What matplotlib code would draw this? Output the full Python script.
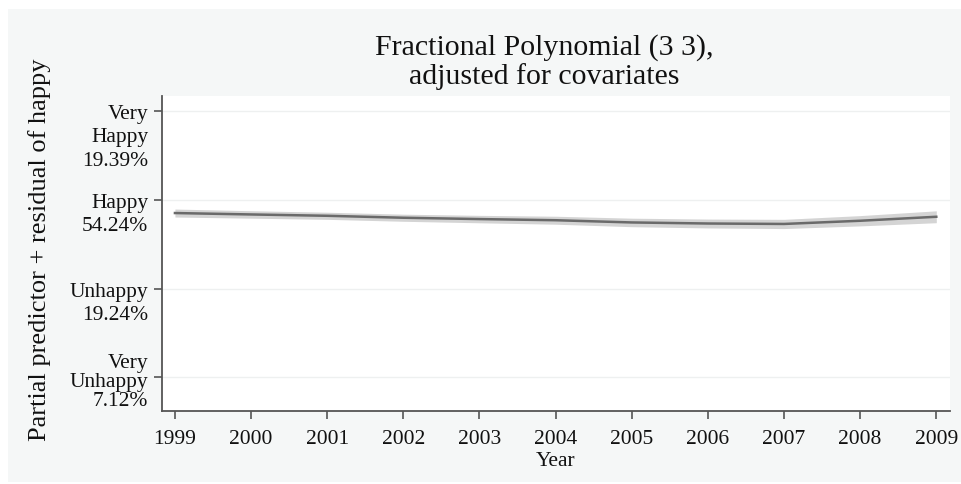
import matplotlib.pyplot as plt
import matplotlib.patches as patches

plt.rcParams['font.family'] = ['Liberation Serif', 'DejaVu Serif']

# values
years = [1999, 2000, 2001, 2002, 2003, 2004, 2005, 2006, 2007, 2008, 2009]
fit = [2.851, 2.835, 2.820, 2.798, 2.783, 2.770, 2.745, 2.733, 2.728, 2.764, 2.809]
half_ci = [0.045, 0.042, 0.040, 0.040, 0.042, 0.045, 0.048, 0.050, 0.052, 0.058, 0.067]

tick_vals = [1, 2, 3, 4]
tick_labels = ['Very\nUnhappy\n7.12%', 'Unhappy\n19.24%', 'Happy\n54.24%', 'Very\nHappy\n19.39%']

W, H = 961, 485
fig = plt.figure(figsize=(W / 100, H / 100), dpi=100)
fig.patch.set_facecolor('white')

# grey graph region (Stata style), white margin round it
panel = patches.Rectangle((8 / W, 2 / H), 1 - 8 / W, 1 - 12 / H,
                          transform=fig.transFigure, facecolor='#f5f7f7',
                          edgecolor='none', zorder=-10)
fig.patches.append(panel)

ax = fig.add_axes([162 / W, 1 - 412 / H, (950 - 162) / W, (412 - 97) / H])
ax.set_facecolor('white')

lo = [f - h for f, h in zip(fit, half_ci)]
hi = [f + h for f, h in zip(fit, half_ci)]
ax.fill_between(years, lo, hi, color='#d4d4d4', linewidth=0, zorder=2)
ax.plot(years, fit, color='#6a6a6a', linewidth=1.8, zorder=3)

ax.set_xlim(1998.83, 2009.18)
ax.set_ylim(0.62, 4.17)
ax.set_xticks(years)
ax.set_xticklabels([str(y) for y in years], fontsize=15.5)
ax.set_yticks(tick_vals)
ax.set_yticklabels([''] * len(tick_vals))
for v in tick_vals:
    ax.axhline(v, color='#eef0f0', linewidth=1, zorder=1)

# multi-line y labels: first line sits at the tick, the bottom one is squeezed
for v, lab in zip(tick_vals, tick_labels):
    if v == tick_vals[0]:
        ax.annotate(lab, xy=(0, v), xycoords=('axes fraction', 'data'),
                    xytext=(-10, -3), textcoords='offset points',
                    ha='right', va='center', fontsize=15.5, linespacing=1.02,
                    multialignment='right', color='#111111')
    else:
        ax.annotate(lab, xy=(0, v), xycoords=('axes fraction', 'data'),
                    xytext=(-10, 5), textcoords='offset points',
                    ha='right', va='top', fontsize=15.5, linespacing=1.3,
                    multialignment='right', color='#111111')

for s in ['top', 'right']:
    ax.spines[s].set_visible(False)
for s in ['left', 'bottom']:
    ax.spines[s].set_color('#555555')
    ax.spines[s].set_linewidth(1.3)
ax.tick_params(axis='both', direction='out', length=6, width=1.2, color='#555555',
               labelcolor='#111111')
ax.tick_params(axis='x', pad=7)

ax.set_xlabel('Year', fontsize=15.5, labelpad=2, color='#111111')
fig.text(40 / W, 1 - 250 / H, 'Partial predictor + residual of happy', rotation=90,
         ha='center', va='center', fontsize=19, color='#111111')
fig.text(544 / W, 1 - 62 / H, 'Fractional Polynomial (3 3),\nadjusted for covariates',
         ha='center', va='center', fontsize=21.5, linespacing=1.1, color='#111111')

fig.savefig('out.png', dpi=100, facecolor=fig.get_facecolor())
